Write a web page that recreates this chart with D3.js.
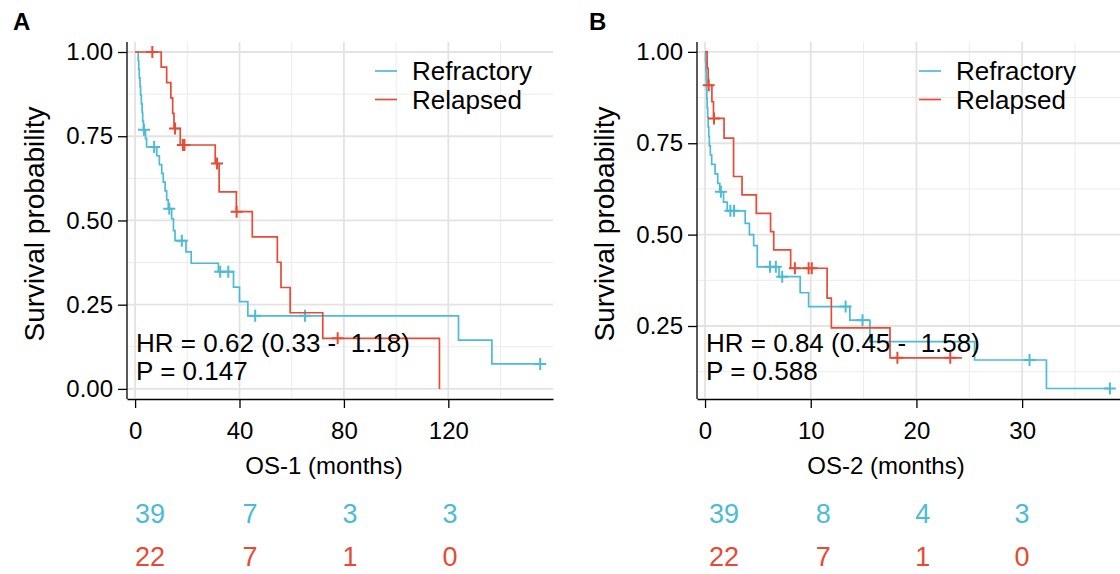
<!DOCTYPE html>
<html>
<head>
<meta charset="utf-8">
<script src="https://cdn.jsdelivr.net/npm/d3@7"></script>
<style>
  body { margin: 0; background: #fff; }
  svg { display: block; font-family: "Liberation Sans", Arial, Helvetica, sans-serif; }
</style>
</head>
<body>
<svg id="chart" width="1120" height="574"></svg>
<script>
// ---- data ----
const groups = ["Refractory", "Relapsed"];
const colors = ["#4DBBD5", "#E64B35"];

// Panel A: OS-1, Kaplan-Meier steps (time in months, survival after the step)
const refA_t = [0, 1.2, 1.4, 1.6, 1.9, 2.1, 2.4, 2.7, 2.9, 3.2, 4.0, 4.4, 8.3, 9.3, 10.2, 10.8, 11.5, 12.1, 12.7,
  14.0, 14.7, 15.3, 19.5, 21.5, 31.9, 37.7, 40.0, 43.2, 123.9, 136.7, 155.2];
const refA_s = [1, 0.974, 0.949, 0.923, 0.897, 0.872, 0.846, 0.821, 0.795, 0.769, 0.743, 0.718, 0.692, 0.666, 0.640,
  0.614, 0.588, 0.561, 0.535, 0.505, 0.470, 0.440, 0.407, 0.373, 0.348, 0.302, 0.259, 0.217, 0.145, 0.074, 0.074];
const refA_ct = [3.4, 7.3, 13.1, 17.9, 32.6, 35.7, 46.0, 65.1, 155.2];
const refA_cs = [0.769, 0.718, 0.535, 0.440, 0.348, 0.348, 0.217, 0.217, 0.074];

const relA_t = [0, 10.0, 12.1, 13.7, 14.4, 14.9, 17.3, 30.7, 32.2, 38.8, 44.9, 54.5, 55.9, 59.4, 71.9, 116.6];
const relA_s = [1, 0.955, 0.909, 0.864, 0.818, 0.773, 0.724, 0.669, 0.585, 0.526, 0.451, 0.376, 0.301, 0.226, 0.150, 0];
const relA_ct = [6.6, 15.3, 18.3, 18.9, 31.4, 38.9, 77.6];
const relA_cs = [1, 0.773, 0.724, 0.724, 0.669, 0.526, 0.150];

// Panel B: OS-2
const refB_t = [0, 0.05, 0.08, 0.11, 0.14, 0.17, 0.2, 0.25, 0.3, 0.35, 0.41, 0.5, 0.63, 0.95, 1.2, 1.4, 1.75, 2.1,
  3.8, 4.2, 4.6, 4.94, 7.0, 9.0, 9.8, 13.7, 15.6, 25.5, 32.3, 38.3];
const refB_s = [1, 0.974, 0.949, 0.923, 0.897, 0.872, 0.846, 0.821, 0.795, 0.769, 0.743, 0.718, 0.692, 0.666, 0.640,
  0.617, 0.589, 0.565, 0.531, 0.500, 0.470, 0.412, 0.385, 0.341, 0.303, 0.266, 0.207, 0.157, 0.079, 0.079];
const refB_ct = [1.5, 2.4, 2.75, 6.15, 6.7, 7.3, 13.3, 14.9, 30.7, 38.3];
const refB_cs = [0.617, 0.565, 0.565, 0.412, 0.412, 0.385, 0.303, 0.266, 0.157, 0.079];

const relB_t = [0, 0.2, 0.3, 0.65, 0.8, 1.8, 2.7, 3.5, 4.85, 6.2, 6.5, 8.1, 11.55, 11.95, 17.5, 24.3];
const relB_s = [1, 0.955, 0.909, 0.864, 0.818, 0.764, 0.659, 0.609, 0.558, 0.508, 0.458, 0.408, 0.326, 0.245, 0.163, 0.163];
const relB_ct = [0.35, 0.85, 8.5, 9.8, 10.1, 18.2, 23.2];
const relB_cs = [0.909, 0.818, 0.408, 0.408, 0.408, 0.163, 0.163];

// number at risk
const riskTimesA = [0, 40, 80, 120];
const riskRefA = [39, 7, 3, 3];
const riskRelA = [22, 7, 1, 0];
const riskTimesB = [0, 10, 20, 30];
const riskRefB = [39, 8, 4, 3];
const riskRelB = [22, 7, 1, 0];

const yTicksA = [0, 0.25, 0.5, 0.75, 1];
const yTicksB = [0.25, 0.5, 0.75, 1];
const xTicksA = [0, 40, 80, 120];
const xTicksB = [0, 10, 20, 30];

// ---- drawing ----
const svg = d3.select("#chart");

function drawPanel(p) {
  const top = 42, bottom = 398;
  const x = d3.scaleLinear().domain(p.xDomain).range([p.left, p.right]);
  const y = d3.scaleLinear().domain(p.yDomain).range([bottom, top]);
  const g = svg.append("g");

  // grid
  const xMinor = p.xTicks.map(d => d + p.xStep / 2).filter(d => x(d) < p.right - 2);
  const yMinor = [0.125, 0.375, 0.625, 0.875].filter(d => y(d) < bottom - 2);
  g.append("g").selectAll("line").data(xMinor).join("line")
    .attr("x1", d => x(d)).attr("x2", d => x(d)).attr("y1", top).attr("y2", bottom)
    .attr("stroke", "#ececec").attr("stroke-width", 1);
  g.append("g").selectAll("line").data(yMinor).join("line")
    .attr("x1", p.left).attr("x2", p.right).attr("y1", d => y(d)).attr("y2", d => y(d))
    .attr("stroke", "#ececec").attr("stroke-width", 1);
  g.append("g").selectAll("line").data(p.xTicks).join("line")
    .attr("x1", d => x(d)).attr("x2", d => x(d)).attr("y1", top).attr("y2", bottom)
    .attr("stroke", "#e3e3e3").attr("stroke-width", 1.8);
  g.append("g").selectAll("line").data(p.yTicks).join("line")
    .attr("x1", p.left).attr("x2", p.right).attr("y1", d => y(d)).attr("y2", d => y(d))
    .attr("stroke", "#e3e3e3").attr("stroke-width", 1.8);

  // axes
  const yAxis = g.append("g").attr("transform", `translate(${p.left},0)`)
    .call(d3.axisLeft(y).tickValues(p.yTicks).tickFormat(d3.format(".2f")).tickSize(9).tickSizeOuter(0).tickPadding(5));
  const xAxis = g.append("g").attr("transform", `translate(0,${bottom + 1})`)
    .call(d3.axisBottom(x).tickValues(p.xTicks).tickSize(9).tickSizeOuter(0).tickPadding(14));
  [yAxis, xAxis].forEach(a => {
    a.selectAll("path, line").attr("stroke", "#000").attr("stroke-width", 1.3);
    a.selectAll("text").attr("font-size", 24).attr("fill", "#000").attr("font-family", null);
  });
  yAxis.select(".domain").attr("d", `M0,${top}V${bottom + 1}`);

  // curves
  const line = d3.line().x(d => x(d[0])).y(d => y(d[1])).curve(d3.curveStepAfter);
  p.curves.forEach((c, i) => {
    const pts = d3.zip(c.t, c.s);
    g.append("path").datum(pts).attr("d", line)
      .attr("fill", "none").attr("stroke", colors[i]).attr("stroke-width", 1.7);
    const cens = d3.zip(c.ct, c.cs);
    g.append("g").selectAll("path").data(cens).join("path")
      .attr("d", d => `M${x(d[0]) - 6},${y(d[1])}h12M${x(d[0])},${y(d[1]) - 6}v12`)
      .attr("stroke", colors[i]).attr("stroke-width", 2).attr("fill", "none");
  });

  // legend
  groups.forEach((name, i) => {
    const ly = 71 + i * 28.5;
    g.append("line").attr("x1", p.legendX).attr("x2", p.legendX + 22).attr("y1", ly).attr("y2", ly)
      .attr("stroke", colors[i]).attr("stroke-width", 1.7);
    g.append("text").attr("x", p.legendX + 37).attr("y", ly + 9).attr("font-size", 26).text(name);
  });

  // HR annotation
  g.append("text").attr("x", x(0) + 1).attr("y", 352).attr("font-size", 26)
    .attr("xml:space", "preserve").style("white-space", "pre").text(p.hr);
  g.append("text").attr("x", x(0) + 1).attr("y", 380).attr("font-size", 26).text(p.pval);

  // axis titles
  g.append("text").attr("transform", `translate(${p.left - 83},224) rotate(-90)`)
    .attr("text-anchor", "middle").attr("font-size", 28).text("Survival probability");
  g.append("text").attr("x", p.xTitleX).attr("y", 474).attr("text-anchor", "middle")
    .attr("font-size", 24).text(p.xTitle);

  // panel tag
  g.append("text").attr("x", p.tagX).attr("y", 30).attr("font-size", 24).attr("font-weight", "bold").text(p.tag);

  // risk table
  const rx = d3.scaleLinear().domain(p.riskDomain).range(p.riskRange);
  [p.riskRef, p.riskRel].forEach((vals, i) => {
    g.append("g").selectAll("text").data(vals).join("text")
      .attr("x", (d, j) => rx(p.riskTimes[j])).attr("y", 523 + i * 43)
      .attr("text-anchor", "middle").attr("font-size", 27).attr("fill", colors[i])
      .text(d => d);
  });
}

drawPanel({
  tag: "A", tagX: 13, left: 127, right: 553, xDomain: [-3.1, 160.1], yDomain: [-0.027, 1.0297],
  xTicks: xTicksA, xStep: 40, yTicks: yTicksA, legendX: 375, xTitle: "OS-1 (months)", xTitleX: 324,
  hr: "HR = 0.62 (0.33 -  1.18)", pval: "P = 0.147",
  curves: [
    { t: refA_t, s: refA_s, ct: refA_ct, cs: refA_cs },
    { t: relA_t, s: relA_s, ct: relA_ct, cs: relA_cs }
  ],
  riskTimes: riskTimesA, riskRef: riskRefA, riskRel: riskRelA, riskDomain: [0, 120], riskRange: [150, 450]
});

drawPanel({
  tag: "B", tagX: 589, left: 697, right: 1120, xDomain: [-0.76, 39.26], yDomain: [0.053, 1.027],
  xTicks: xTicksB, xStep: 10, yTicks: yTicksB, legendX: 919, xTitle: "OS-2 (months)", xTitleX: 886,
  hr: "HR = 0.84 (0.45 -  1.58)", pval: "P = 0.588",
  curves: [
    { t: refB_t, s: refB_s, ct: refB_ct, cs: refB_cs },
    { t: relB_t, s: relB_s, ct: relB_ct, cs: relB_cs }
  ],
  riskTimes: riskTimesB, riskRef: riskRefB, riskRel: riskRelB, riskDomain: [0, 30], riskRange: [724, 1022]
});
</script>
</body>
</html>
